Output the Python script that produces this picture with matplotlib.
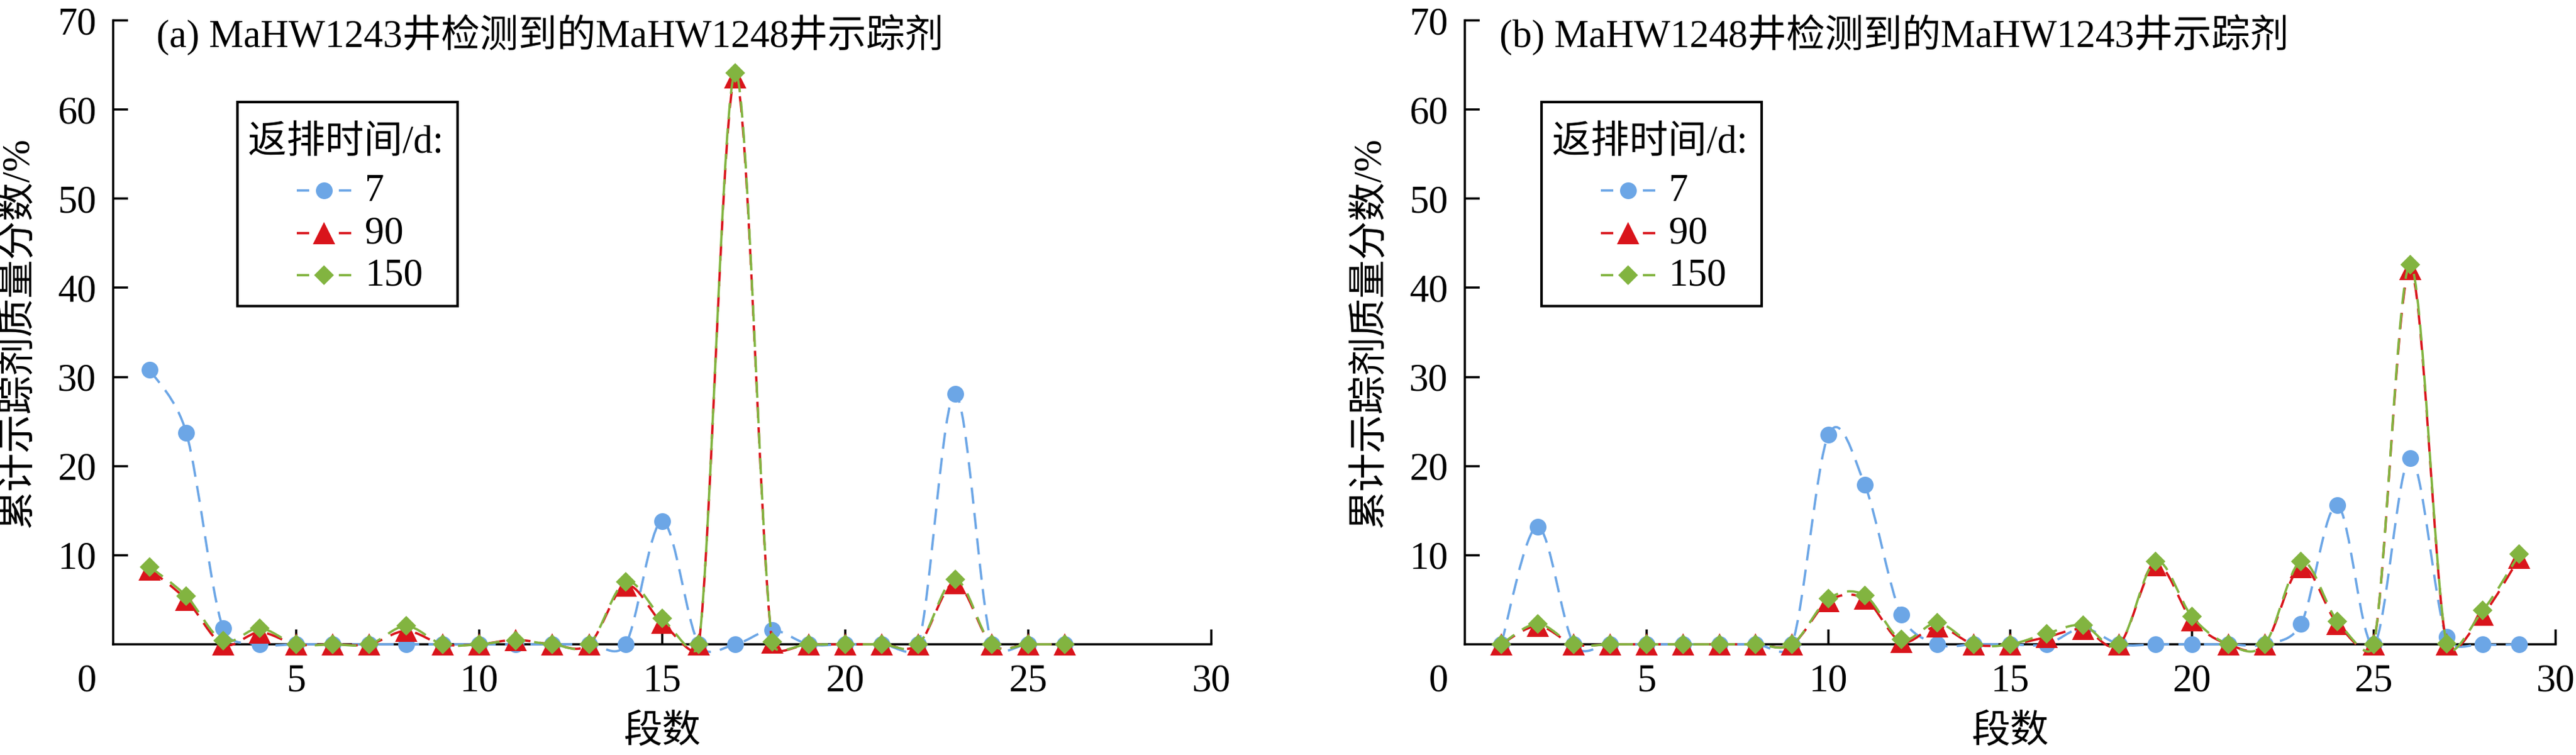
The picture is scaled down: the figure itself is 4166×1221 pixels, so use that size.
import numpy as np
import matplotlib
matplotlib.use('Agg')
import matplotlib.pyplot as plt
from matplotlib.path import Path
from matplotlib.patches import PathPatch, Rectangle
from matplotlib.lines import Line2D

plt.rcParams['font.family'] = ['Liberation Serif', 'Noto Sans CJK SC']
plt.rcParams['font.size'] = 15

# 段数
stage_a = list(range(1, 27))
stage_b = list(range(1, 30))

# (a) MaHW1243井检测到的MaHW1248井示踪剂, 累计示踪剂质量分数/%
a_7 = [30.8, 23.7, 1.8, 0, 0, 0, 0, 0, 0, 0, 0, 0, 0, 0, 13.8, 0, 0, 1.6, 0, 0, 0, 0, 28.1, 0, 0, 0]
a_90 = [8.4, 5.0, 0, 1.35, 0, 0, 0, 1.5, 0, 0, 0.5, 0, 0, 6.6, 2.4, 0, 63.6, 0.2, 0, 0, 0, 0, 6.9, 0, 0, 0]
a_150 = [8.7, 5.4, 0.4, 1.8, 0, 0, 0, 2.05, 0, 0, 0.45, 0, 0, 7.0, 2.9, 0, 64.1, 0.3, 0, 0, 0, 0, 7.3, 0, 0, 0]

# (b) MaHW1248井检测到的MaHW1243井示踪剂
b_7 = [0, 13.2, 0, 0, 0, 0, 0, 0, 0, 23.5, 17.9, 3.3, 0, 0, 0, 0, 1.8, 0, 0, 0, 0, 0, 2.3, 15.6, 0, 20.9, 0.8, 0, 0]
b_90 = [0, 2.05, 0, 0, 0, 0, 0, 0, 0, 4.85, 5.1, 0.3, 2.0, 0, 0, 0.8, 1.7, 0, 8.9, 2.7, 0, 0, 8.7, 2.3, 0, 42.1, 0, 3.3, 9.7]
b_150 = [0, 2.3, 0, 0, 0, 0, 0, 0, 0, 5.1, 5.5, 0.55, 2.4, 0, 0, 1.2, 2.15, 0, 9.3, 3.1, 0, 0, 9.3, 2.6, 0, 42.6, 0.1, 3.8, 10.1]

series_labels = ['7', '90', '150']
colors = ['#6ca6e6', '#d9141b', '#82b440']
markers = ['o', '^', 'D']
msizes = [6.5, 8.5, 5.3]
xticks = [5, 10, 15, 20, 25, 30]
yticks = [10, 20, 30, 40, 50, 60, 70]

W, H = 4166, 1221
DPI = 300
fig = plt.figure(figsize=(W / DPI, H / DPI), dpi=DPI)


def fx(px):
    return px / W


def fy(py):
    return 1 - py / H


def smooth_path(ax, x, y):
    # excel-like smoothed line: bezier segments, handles capped to half segment
    pts = ax.transData.transform(np.column_stack([x, y]))
    n = len(pts)
    verts = [pts[0]]
    codes = [Path.MOVETO]
    for i in range(n - 1):
        p0 = pts[i - 1] if i > 0 else pts[i]
        p1 = pts[i]
        p2 = pts[i + 1]
        p3 = pts[i + 2] if i + 2 < n else pts[i + 1]
        half = np.hypot(*(p2 - p1)) / 2
        v1 = (p2 - p0) / 6
        v2 = (p3 - p1) / 6
        l1 = np.hypot(*v1)
        l2 = np.hypot(*v2)
        if l1 > half:
            v1 = v1 * half / l1
        if l2 > half:
            v2 = v2 * half / l2
        verts += [p1 + v1, p2 - v2, p2]
        codes += [Path.CURVE4] * 3
    verts = ax.transData.inverted().transform(np.array(verts))
    return Path(verts, codes)


panels = [
    ([183, 1776], stage_a, [a_7, a_90, a_150], '(a) MaHW1243井检测到的MaHW1248井示踪剂', 70, 384),
    ([2369, 1764], stage_b, [b_7, b_90, b_150], '(b) MaHW1248井检测到的MaHW1243井示踪剂', 56, 2493),
]

for (left, width), xs, ys, title, title_dx, box_l in panels:
    ax = fig.add_axes([fx(left), fy(1042), width / W, 1009 / H])
    ax.set_xlim(0, 30)
    ax.set_ylim(0, 70)
    ax.set_xticks(xticks)
    ax.set_yticks(yticks)
    for s in ['top', 'right']:
        ax.spines[s].set_visible(False)
    for s in ['left', 'bottom']:
        ax.spines[s].set_linewidth(0.85)
    ax.tick_params(direction='in', length=5.8, width=0.85, labelsize=15)
    ax.tick_params(axis='x', pad=7.5)
    ax.tick_params(axis='y', pad=6.5)
    ax.annotate('0', xy=(0, 0), xycoords='axes fraction', xytext=(-6.5, -7.5),
                textcoords='offset points', ha='right', va='top', fontsize=15)

    for k, yv in enumerate(ys):
        p = PathPatch(smooth_path(ax, xs, yv), fill=False, edgecolor=colors[k], lw=0.9,
                      linestyle=(0, (7, 4)), clip_on=False, zorder=3 + k)
        ax.add_patch(p)
        ax.plot(xs, yv, ls='none', marker=markers[k], ms=msizes[k], color=colors[k],
                mew=0, clip_on=False, zorder=3.5 + k)

    ax.set_xlabel('段数', fontsize=15, va='center')
    ax.xaxis.set_label_coords(0.5, -142 / 1009)
    ax.set_ylabel('累计示踪剂质量分数/%', fontsize=15, va='center')
    ax.yaxis.set_label_coords(-154 / width, 0.5)

    ax.text(title_dx / width, (1042 - 75) / 1009, title, transform=ax.transAxes,
            ha='left', va='baseline', fontsize=15)

    # legend box
    fig.add_artist(Rectangle((fx(box_l), fy(495)), 356 / W, 330 / H, transform=fig.transFigure,
                             fill=False, edgecolor='black', lw=1.0))
    fig.text(fx(box_l + 17), fy(247), '返排时间/d:', ha='left', va='baseline', fontsize=15)
    for k, yc in enumerate([308, 377, 445]):
        fig.add_artist(Line2D([fx(box_l + 96), fx(box_l + 184)], [fy(yc), fy(yc)],
                              transform=fig.transFigure, color=colors[k], lw=0.9,
                              dashes=(5.33, 12.8)))
        fig.add_artist(Line2D([fx(box_l + 140)], [fy(yc)], transform=fig.transFigure,
                              ls='none', marker=markers[k], ms=msizes[k], color=colors[k], mew=0))
        fig.text(fx(box_l + 206), fy(yc + 17), series_labels[k], ha='left', va='baseline', fontsize=15)

fig.savefig('out.png', dpi=DPI)
